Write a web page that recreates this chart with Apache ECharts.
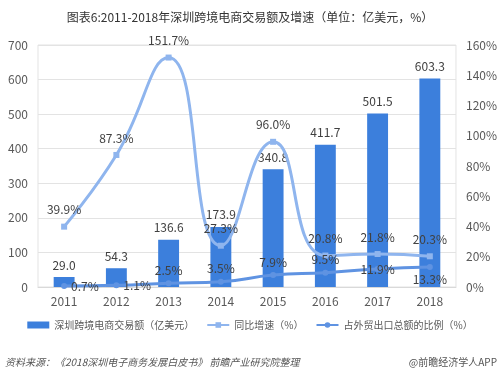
<!DOCTYPE html>
<html>
<head>
<meta charset="utf-8">
<script src="https://cdn.jsdelivr.net/npm/echarts@6/dist/echarts.min.js"></script>
<style>
  html, body { margin: 0; padding: 0; background: #fff; }
  #chart { width: 500px; height: 375px; }
</style>
</head>
<body>
<div id="chart"></div>
<script>
// 数据
var years = ["2011", "2012", "2013", "2014", "2015", "2016", "2017", "2018"];
var tradeAmount = [29.0, 54.3, 136.6, 173.9, 340.8, 411.7, 501.5, 603.3];
var growthRate = [39.9, 87.3, 151.7, 27.3, 96.0, 20.8, 21.8, 20.3];
var exportRatio = [0.7, 1.1, 2.5, 3.5, 7.9, 9.5, 11.9, 13.3];
// 占比标签位置
var ratioLabelPos = ["right", "right", "top", "top", "top", "top", "inside", "bottom"];

var textColor = "#595959";
var fontFamily = "'Noto Sans CJK SC', 'Noto Sans', sans-serif";

var chart = echarts.init(document.getElementById("chart"));
chart.setOption({
  animation: false,
  textStyle: { fontFamily: fontFamily },
  title: {
    text: "图表6:2011-2018年深圳跨境电商交易额及增速（单位：亿美元，%）",
    left: "center",
    top: 6,
    textStyle: { fontSize: 12, fontWeight: "normal", color: "#333", fontFamily: fontFamily }
  },
  grid: {
    left: 38,
    right: 43,
    top: 45,
    bottom: 88,
    show: true,
    borderColor: "#e3e3e3",
    borderWidth: 1
  },
  legend: {
    bottom: 40,
    left: "center",
    itemGap: 12,
    itemWidth: 22,
    itemHeight: 7,
    textStyle: { color: textColor, fontSize: 10 },
    data: [
      { name: "深圳跨境电商交易额（亿美元）", icon: "rect" },
      { name: "同比增速（%）" },
      { name: "占外贸出口总额的比例（%）" }
    ]
  },
  graphic: [
    {
      type: "text",
      left: 5,
      bottom: 8,
      style: {
        text: "资料来源：《2018深圳电子商务发展白皮书》 前瞻产业研究院整理",
        fontSize: 10,
        fontStyle: "italic",
        fill: "#555",
        fontFamily: fontFamily
      }
    },
    {
      type: "text",
      right: 3,
      bottom: 8,
      style: {
        text: "@前瞻经济学人APP",
        fontSize: 10,
        fill: "#555",
        fontFamily: fontFamily
      }
    }
  ],
  xAxis: {
    type: "category",
    data: years,
    axisLine: { lineStyle: { color: "#d9d9d9" } },
    axisTick: { show: false },
    axisLabel: { color: textColor, fontSize: 12, margin: 8 }
  },
  yAxis: [
    {
      type: "value",
      min: 0,
      max: 700,
      interval: 100,
      axisLine: { show: false },
      axisTick: { show: false },
      splitLine: { lineStyle: { color: "#e3e3e3" } },
      axisLabel: { color: textColor, fontSize: 12, margin: 10 }
    },
    {
      type: "value",
      min: 0,
      max: 160,
      interval: 20,
      axisLine: { show: false },
      axisTick: { show: false },
      splitLine: { show: false },
      axisLabel: { color: textColor, fontSize: 12, margin: 10, formatter: "{value}%" }
    }
  ],
  series: [
    {
      name: "深圳跨境电商交易额（亿美元）",
      type: "bar",
      data: tradeAmount,
      barWidth: "40%",
      itemStyle: { color: "#3c7fdc" },
      label: {
        show: true,
        position: "top",
        distance: 6,
        color: "#404040",
        fontSize: 12,
        formatter: function (p) { return p.value.toFixed(1); }
      }
    },
    {
      name: "同比增速（%）",
      type: "line",
      yAxisIndex: 1,
      data: growthRate,
      smooth: 0.5,
      symbol: "rect",
      symbolSize: 6,
      lineStyle: { color: "#8fb5ee", width: 3 },
      itemStyle: { color: "#8fb5ee" },
      label: {
        show: true,
        position: "top",
        distance: 8,
        color: "#404040",
        fontSize: 12,
        formatter: function (p) { return p.value.toFixed(1) + "%"; }
      },
      z: 3
    },
    {
      name: "占外贸出口总额的比例（%）",
      type: "line",
      yAxisIndex: 1,
      data: exportRatio.map(function (v, i) {
        return { value: v, label: { position: ratioLabelPos[i] } };
      }),
      smooth: true,
      symbol: "circle",
      symbolSize: 6,
      lineStyle: { color: "#5f93e2", width: 3 },
      itemStyle: { color: "#5f93e2" },
      label: {
        show: true,
        distance: 4,
        color: "#404040",
        fontSize: 12,
        formatter: function (p) { return p.value.toFixed(1) + "%"; }
      },
      z: 4
    }
  ]
});
</script>
</body>
</html>
